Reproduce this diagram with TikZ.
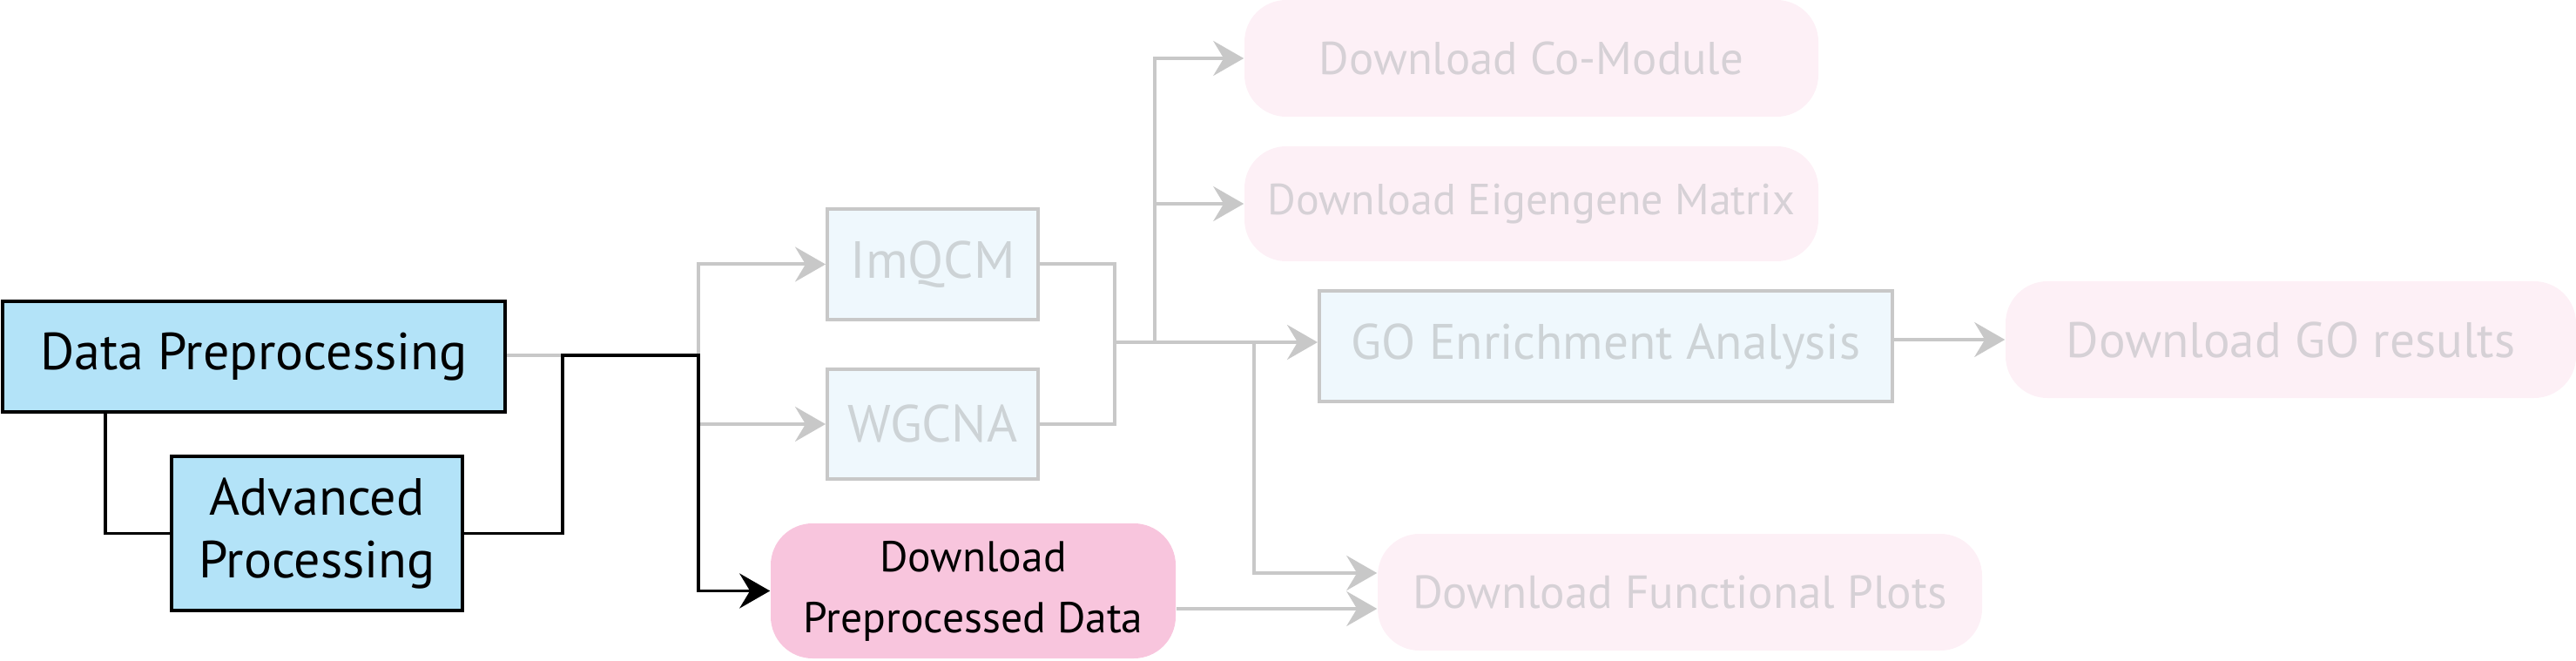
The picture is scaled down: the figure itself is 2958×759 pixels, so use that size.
\documentclass[tikz,border=0pt]{standalone}
\usepackage{fontspec}
\setmainfont{PT Sans}
\usetikzlibrary{arrows.meta}
\definecolor{bluefill}{HTML}{B3E3F8}
\definecolor{pinkfill}{HTML}{F8C5DD}
\definecolor{fadeblue}{HTML}{EFF8FD}
\definecolor{fadepink}{HTML}{FDF0F6}
\definecolor{linegray}{HTML}{C8C8C8}
\definecolor{fadetextb}{HTML}{CDD3D6}
\definecolor{fadetextp}{HTML}{D6D1D6}
\tikzset{
  solidbox/.style={draw=black, line width=1pt, fill=bluefill, inner sep=0pt, align=center, font=\fontsize{15}{19}\selectfont},
  fadebox/.style={draw=linegray, line width=1pt, fill=fadeblue, text=fadetextb, inner sep=0pt, align=center},
  fadepill/.style={fill=fadepink, rounded corners=12pt, text=fadetextp, inner sep=0pt, align=center},
  pinkpill/.style={fill=pinkfill, rounded corners=12pt, text=black, inner sep=0pt, align=center, font=\fontsize{12.4}{17.5}\selectfont},
  blk/.style={draw=black, line width=0.9pt},
  gry/.style={draw=linegray, line width=1pt},
  tip/.style={-{Stealth[length=8.75pt,width=10pt,inset=3pt]}}
}
\begin{document}
\begin{tikzpicture}[x=0.25pt,y=-0.25pt]
\useasboundingbox (0,0) rectangle (2958,759);
% nodes
\node[solidbox, minimum width=144.25pt, minimum height=31.75pt] (dp) at (291.5,409.5) {Data Preprocessing};
\node[solidbox, minimum width=83.5pt, minimum height=44.25pt] (ap) at (364,612.5) {Advanced\\[-1pt]Processing};
\node[fadebox, minimum width=60.5pt, minimum height=31.75pt, font=\fontsize{15}{19}\selectfont] (imqcm) at (1071,303.5) {ImQCM};
\node[fadebox, minimum width=60.5pt, minimum height=31.5pt, font=\fontsize{15}{19}\selectfont] (wgcna) at (1071,487) {WGCNA};
\node[fadepill, minimum width=164.75pt, minimum height=33.5pt, font=\fontsize{13.2}{16}\selectfont] (comod) at (1758.5,67) {Download Co-Module};
\node[fadepill, minimum width=164.75pt, minimum height=33pt, font=\fontsize{12.5}{16}\selectfont] (eig) at (1758.5,234) {Download Eigengene Matrix};
\node[fadebox, minimum width=164.5pt, minimum height=31.75pt, font=\fontsize{14.3}{18}\selectfont] (go) at (1844,397.5) {GO Enrichment Analysis};
\node[fadepill, minimum width=163.75pt, minimum height=33.5pt, font=\fontsize{14.3}{18}\selectfont] (gores) at (2630.5,390) {Download GO results};
\node[pinkpill, minimum width=116.25pt, minimum height=38.75pt] (dpd) at (1117.5,678.5) {Download\\Preprocessed Data};
\node[fadepill, minimum width=173.5pt, minimum height=33.5pt, font=\fontsize{13.3}{17}\selectfont] (fp) at (1929,680) {Download Functional Plots};
% junction coordinates
\coordinate (c1) at (646,408);
\coordinate (c2) at (802,408);
\coordinate (m) at (1280,393);
\coordinate (j2) at (1326,393);
\coordinate (j3) at (1440,393);
% gray connectors
\draw[gry] (dp.east |- c1) -- (c1);
\draw[gry,tip] (c2) |- (imqcm.west);
\draw[gry,tip] (c2) |- (wgcna.west);
\draw[gry] (imqcm.east) -| (m) |- (wgcna.east);
\draw[gry,tip] (m) -- (m -| go.west);
\draw[gry,tip] (j2) |- (comod.west);
\draw[gry,tip] (j2) |- (eig.west);
\draw[gry,tip] (j3) |- (fp.west |- 0,658);
\draw[gry,tip] (dpd.east |- 0,699) -- (fp.west |- 0,699);
\draw[gry,tip] (go.east |- gores.west) -- (gores.west);
% black connectors
\draw[blk] (121,0 |- dp.south) |- (ap.west);
\draw[blk,tip] (ap.east) -| (c1) -- (c2) |- (dpd.west);
\end{tikzpicture}
\end{document}
